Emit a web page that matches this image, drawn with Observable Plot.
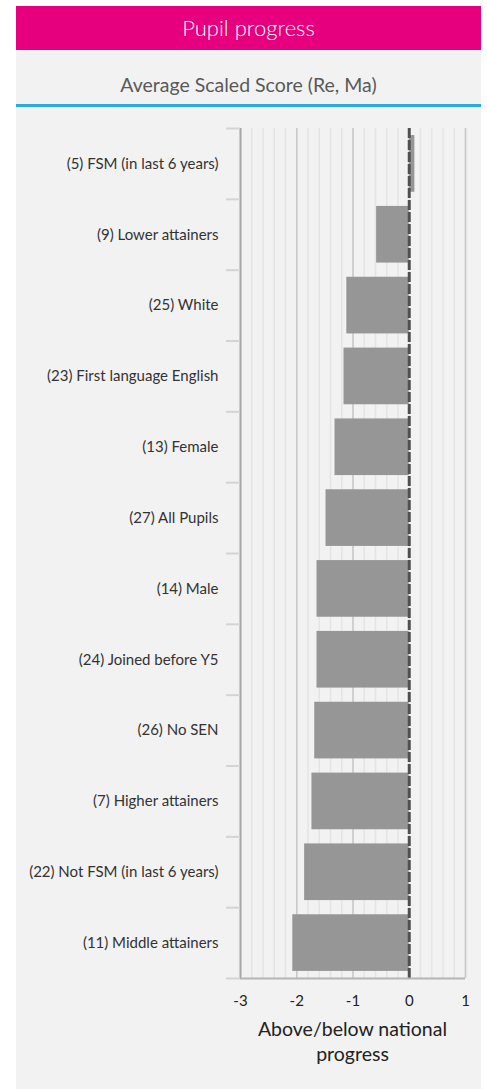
<!DOCTYPE html>
<html>
<head>
<meta charset="utf-8">
<script src="https://cdn.jsdelivr.net/npm/d3@7"></script>
<script src="https://cdn.jsdelivr.net/npm/@observablehq/plot@0.6"></script>
<style>
  html, body { margin: 0; padding: 0; background: #ffffff; }
  body { font-family: Lato, "Open Sans", sans-serif; }
  #wrap { position: absolute; left: 16px; top: 6px; width: 465px; height: 1083px; background: #f2f2f2; }
  #title { height: 44px; background: #e6007e; color: #ffffff; font-size: 22px; font-weight: 300; line-height: 44px; text-align: center; }
  #subtitle { height: 57px; line-height: 70px; color: #595959; font-size: 19.5px; text-align: center; box-sizing: border-box; border-bottom: 3px solid #29abe2; }
  #xlabel { position: absolute; left: 224px; width: 225px; top: 1010px; text-align: center; font-size: 19.5px; line-height: 25px; color: #222; }
  svg { display: block; }
</style>
</head>
<body>
<div id="wrap">
  <div id="title">Pupil progress</div>
  <div id="subtitle">Average Scaled Score (Re, Ma)</div>
  <div id="chart"></div>
  <div id="xlabel">Above/below national<br>progress</div>
</div>
<script>
const categories = [
  "(5) FSM (in last 6 years)",
  "(9) Lower attainers",
  "(25) White",
  "(23) First language English",
  "(13) Female",
  "(27) All Pupils",
  "(14) Male",
  "(24) Joined before Y5",
  "(26) No SEN",
  "(7) Higher attainers",
  "(22) Not FSM (in last 6 years)",
  "(11) Middle attainers"
];
const values = [0.1, -0.58, -1.11, -1.16, -1.32, -1.48, -1.64, -1.64, -1.68, -1.73, -1.86, -2.07];
const xTicks = [-3, -2, -1, 0, 1];
const minorTicks = d3.range(-3, 1.0001, 0.2).map(v => +v.toFixed(1));

const data = categories.map((c, i) => ({category: c, index: i, value: values[i]}));
const n = categories.length;

const chart = Plot.plot({
  width: 465,
  height: 930,
  marginLeft: 224,
  marginRight: 16,
  marginTop: 21,
  marginBottom: 59,
  style: {background: "transparent", fontFamily: "Lato, 'Open Sans', sans-serif", color: "#333"},
  x: {domain: [-3, 1], axis: null, label: null},
  y: {domain: [0, n], reverse: true, axis: null, label: null},
  marks: [
    Plot.ruleX(minorTicks, {y1: 0, y2: n, stroke: "#e4e4e4", strokeWidth: 1.5}),
    Plot.ruleX([-2, -1, 1], {y1: 0, y2: n, stroke: "#c8c8c8", strokeWidth: 1.5}),
    Plot.rectX(data, {x1: 0, x2: "value", y1: d => d.index + 0.1, y2: d => d.index + 0.9, fill: "#969696"}),
    Plot.ruleX([0], {y1: 0, y2: n, stroke: "#505050", strokeWidth: 3, strokeDasharray: "10,2"}),
    Plot.ruleX([-3], {y1: 0, y2: n, stroke: "#a6a6a6", strokeWidth: 2}),
    Plot.ruleY([n], {x1: -3, x2: 1, stroke: "#b4b4b4", strokeWidth: 2}),
    Plot.axisY(d3.range(0, n + 1), {tickSize: 14, tickFormat: () => "", label: null, stroke: "#d4d4d4", strokeWidth: 2, strokeOpacity: 1}),
    Plot.axisY(data.map(d => d.index + 0.5), {tickSize: 0, tickPadding: 22, label: null, tickFormat: (d) => categories[Math.floor(d)], fontSize: 15, fill: "#333"}),
    Plot.axisX(xTicks, {tickSize: 0, tickPadding: 17, label: null, tickFormat: d => String(d), fontSize: 15, fill: "#222"})
  ]
});
document.getElementById("chart").appendChild(chart);
</script>
</body>
</html>
